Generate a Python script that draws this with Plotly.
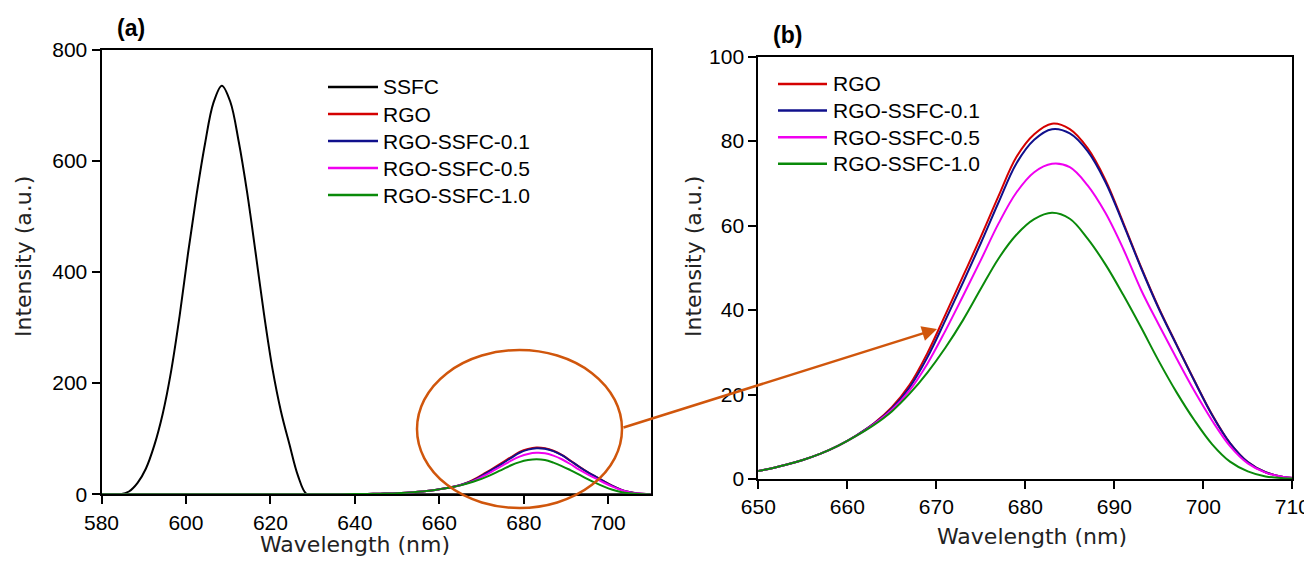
import plotly.graph_objects as go

# ---------------- data ----------------
ssfc_x = [580, 584.5, 586.5, 588.5, 590.5, 592.5, 594.5, 596.5, 598.5, 600.5, 602.5, 604.5, 606.5,
          608.5, 610.5, 612.5, 614.5, 616.5, 618.5, 620.5, 622.5, 624.5, 626.5, 628.5, 630.5,
          640, 660, 680, 700, 710]
ssfc_y = [0, 0, 5, 20, 46, 88, 145, 222, 321, 434, 538, 630, 704,
          735, 706, 634, 542, 434, 323, 225, 149, 90, 34, 1, 0,
          0, 0, 0, 0, 0]

rgo_x = [580, 620, 630, 635, 640, 643, 645, 647, 649, 651, 653, 655, 657, 659, 661, 663, 665,
         667, 669, 671, 673, 675, 677, 679, 681, 683, 685, 687, 689, 691, 693, 695, 697, 699,
         701, 703, 705, 707, 709, 711]

rgo_y = [0, 0, 0.05, 0.15, 0.4, 0.7, 0.95, 1.25, 1.6, 2.3, 3.3, 4.5, 6.0, 7.9, 10.3, 13.2, 17.0,
         22.3, 29.8, 38.8, 48.0, 57.3, 67.0, 76.2, 81.6, 84.1, 82.8, 78.3, 70.8, 60.7, 50.2, 40.5, 31.8, 23.3,
         15.2, 8.5, 4.0, 1.6, 0.5, 0.15]
s01_y = [0, 0, 0.05, 0.15, 0.4, 0.7, 0.95, 1.25, 1.6, 2.3, 3.3, 4.5, 6.0, 7.9, 10.3, 13.1, 16.7,
         21.7, 28.8, 37.5, 46.5, 55.8, 65.5, 74.7, 80.3, 82.8, 81.8, 77.6, 70.3, 60.4, 50.0, 40.3, 31.7, 23.2,
         15.1, 8.5, 4.0, 1.6, 0.5, 0.15]
s05_y = [0, 0, 0.05, 0.15, 0.4, 0.7, 0.95, 1.25, 1.6, 2.3, 3.3, 4.5, 6.0, 7.9, 10.2, 13.0, 16.4,
         21.0, 27.3, 35.0, 43.3, 51.8, 60.5, 67.8, 72.6, 74.6, 73.8, 69.5, 63.0, 54.5, 44.8, 36.5, 28.5, 20.8,
         13.8, 7.8, 3.7, 1.5, 0.5, 0.15]
s10_y = [0, 0, 0.05, 0.15, 0.4, 0.7, 0.95, 1.25, 1.6, 2.3, 3.3, 4.5, 6.0, 7.9, 10.2, 12.8, 16.0,
         20.2, 25.2, 31.0, 37.6, 45.0, 52.2, 57.8, 61.5, 63.0, 61.6, 56.9, 50.8, 43.6, 35.9, 27.9, 20.5, 13.9,
         8.2, 4.1, 1.8, 0.6, 0.2, 0.1]

names = ["RGO", "RGO-SSFC-0.1", "RGO-SSFC-0.5", "RGO-SSFC-1.0"]
colors = ["#d40000", "#10108c", "#f000f0", "#0a8a0a"]
series = [rgo_y, s01_y, s05_y, s10_y]

left_legend_names = ["SSFC"] + names
left_legend_colors = ["black"] + colors

left_xticks = [580, 600, 620, 640, 660, 680, 700]
left_yticks = [0, 200, 400, 600, 800]
right_xticks = [650, 660, 670, 680, 690, 700, 710]
right_yticks = [0, 20, 40, 60, 80, 100]

# ---------------- figure ----------------
# page body has an 8px margin, so the figure is shifted by that amount
OFF = 8
W, H = 1304, 548
fig = go.Figure()

line_kw = dict(width=2, shape="spline", smoothing=1.0)
fig.add_trace(go.Scatter(x=ssfc_x, y=ssfc_y, mode="lines", name="SSFC",
                         line=dict(color="black", **line_kw),
                         xaxis="x", yaxis="y", showlegend=False))
for n, c, s in zip(names, colors, series):
    fig.add_trace(go.Scatter(x=rgo_x, y=s, mode="lines", name=n,
                             line=dict(color=c, **line_kw),
                             xaxis="x", yaxis="y", showlegend=False))
for n, c, s in zip(names, colors, series):
    fig.add_trace(go.Scatter(x=rgo_x, y=s, mode="lines", name=n,
                             line=dict(color=c, **line_kw),
                             xaxis="x2", yaxis="y2", showlegend=False))


def px(x):
    return (x - OFF) / W


def py(y):
    return 1 - (y - OFF) / H


tickfont = dict(family="Liberation Sans, Arial, sans-serif", size=21, color="black")
axis_common = dict(showgrid=False, zeroline=False, showline=True, linecolor="black", linewidth=2,
                   mirror=True, ticks="outside", ticklen=8, tickwidth=2, tickcolor="black",
                   tickfont=tickfont, automargin=False)

fig.update_layout(
    width=W, height=H, paper_bgcolor="white", plot_bgcolor="white",
    margin=dict(l=0, r=0, t=0, b=0), showlegend=False,
    xaxis=dict(domain=[px(101.5), px(650.5)], range=[580, 710], tickvals=left_xticks,
               anchor="y", **axis_common),
    yaxis=dict(domain=[py(494.3), py(49.5)], range=[0, 800], tickvals=left_yticks,
               anchor="x", **axis_common),
    xaxis2=dict(domain=[px(758.3), px(1292.3)], range=[650, 710], tickvals=right_xticks,
                anchor="y2", ticklabeloverflow="allow", **axis_common),
    yaxis2=dict(domain=[py(479), py(56.5)], range=[0, 100], tickvals=right_yticks,
                anchor="x2", **axis_common),
)

title_font = dict(family="DejaVu Sans, sans-serif", size=22, color="#222222")
legend_font = dict(family="Liberation Sans, Arial, sans-serif", size=21, color="black")
annos = [
    dict(text="Wavelength (nm)", x=px(355), y=py(544), xref="paper", yref="paper",
         showarrow=False, font=title_font, xanchor="center", yanchor="middle"),
    dict(text="Wavelength (nm)", x=px(1032), y=py(536), xref="paper", yref="paper",
         showarrow=False, font=title_font, xanchor="center", yanchor="middle"),
    dict(text="Intensity (a.u.)", x=px(24), y=py(257), xref="paper", yref="paper",
         showarrow=False, font=title_font, textangle=-90, xanchor="center", yanchor="middle"),
    dict(text="Intensity (a.u.)", x=px(694), y=py(257), xref="paper", yref="paper",
         showarrow=False, font=title_font, textangle=-90, xanchor="center", yanchor="middle"),
    dict(text="<b>(a)</b>", x=px(131), y=py(28), xref="paper", yref="paper",
         showarrow=False, font=dict(family="Liberation Sans, Arial", size=23, color="black"),
         xanchor="center", yanchor="middle"),
    dict(text="<b>(b)</b>", x=px(787), y=py(35), xref="paper", yref="paper",
         showarrow=False, font=dict(family="Liberation Sans, Arial", size=23, color="black"),
         xanchor="center", yanchor="middle"),
    dict(text="", x=px(937), y=py(329), ax=622 - 937, ay=428 - 329, xref="paper", yref="paper",
         showarrow=True, arrowhead=2, arrowsize=1.2, arrowwidth=2.5, arrowcolor="#d0560c"),
]

shapes = []
# legend (a)
for i, (n, c) in enumerate(zip(left_legend_names, left_legend_colors)):
    yy = 87 + i * 27
    shapes.append(dict(type="line", xref="paper", yref="paper", x0=px(328), x1=px(378),
                       y0=py(yy), y1=py(yy), line=dict(color=c, width=2.5)))
    annos.append(dict(text=n, x=px(381), y=py(yy), xref="paper", yref="paper", showarrow=False,
                      font=legend_font, xanchor="left", yanchor="middle"))
# legend (b)
for i, (n, c) in enumerate(zip(names, colors)):
    yy = 84 + i * 26.6
    shapes.append(dict(type="line", xref="paper", yref="paper", x0=px(778), x1=px(827),
                       y0=py(yy), y1=py(yy), line=dict(color=c, width=2.5)))
    annos.append(dict(text=n, x=px(831), y=py(yy), xref="paper", yref="paper", showarrow=False,
                      font=legend_font, xanchor="left", yanchor="middle"))

shapes.append(dict(type="circle", xref="paper", yref="paper",
                   x0=px(417), x1=px(622), y0=py(508), y1=py(350),
                   line=dict(color="#d0560c", width=2.5), layer="above"))

fig.update_layout(annotations=annos, shapes=shapes)

fig.write_html("out.html")
